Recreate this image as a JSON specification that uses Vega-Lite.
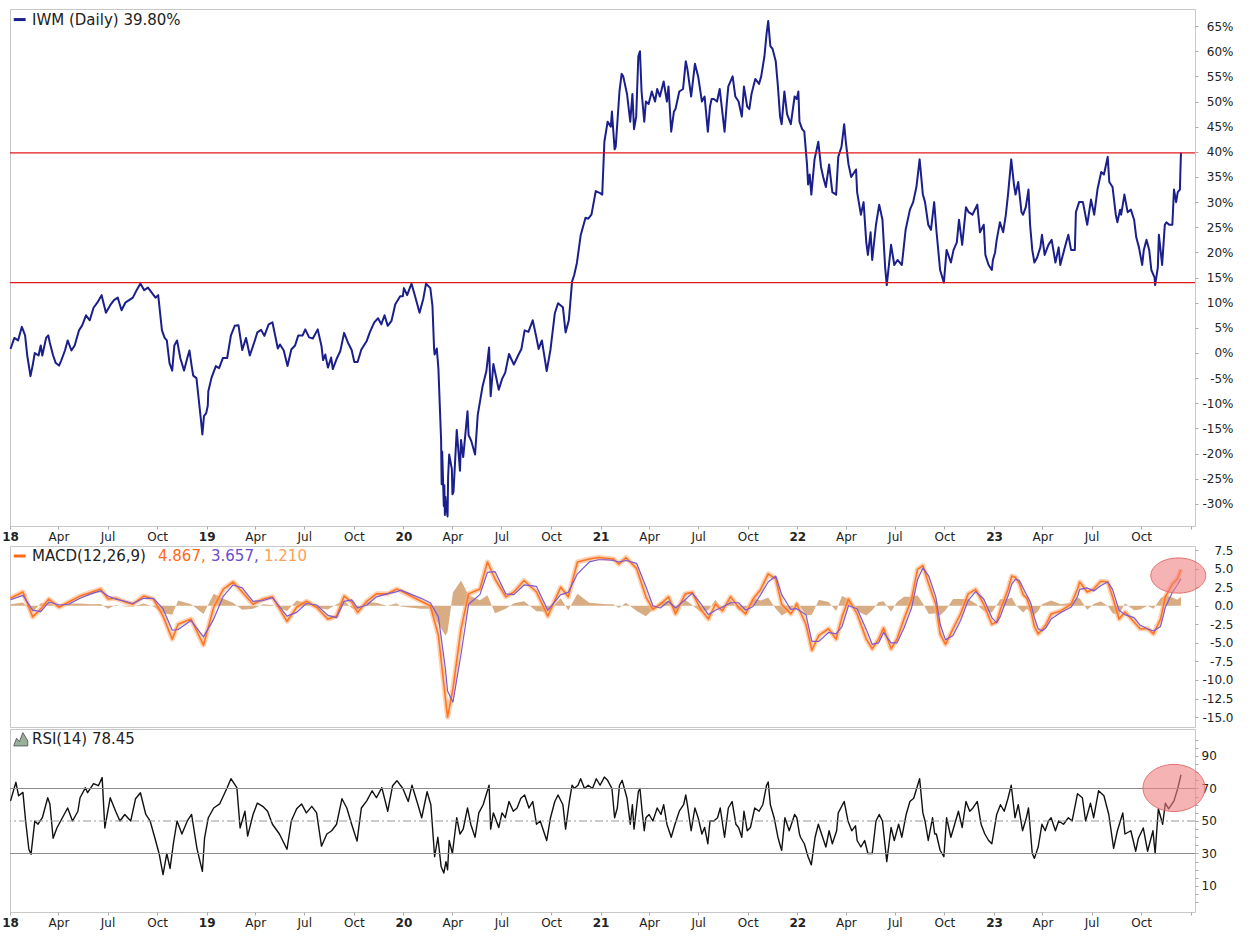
{
"$schema": "https://vega.github.io/schema/vega-lite/v6.json",
"padding": {"left": 1, "top": 8, "right": 2, "bottom": 2},
"background": "white",
"spacing": 0,
"config": {
  "view": {"stroke": "#c8c8c8", "strokeWidth": 1},
  "axis": {"labelFont": "DejaVu Sans", "labelColor": "#222222", "grid": false, "domain": false, "tickColor": "#aaaaaa", "titlePadding": 0},
  "text": {"font": "DejaVu Sans"}
},
"datasets": {
"px": [
{"d":"2018-01-02","v":0.8},{"d":"2018-01-09","v":3.0},{"d":"2018-01-16","v":2.5},{"d":"2018-01-23","v":5.2},{"d":"2018-01-29","v":3.5},{"d":"2018-02-02","v":-0.5},{"d":"2018-02-08","v":-4.6},{"d":"2018-02-12","v":-2.5},{"d":"2018-02-16","v":0.0},{"d":"2018-02-23","v":-0.5},{"d":"2018-02-27","v":1.5},{"d":"2018-03-02","v":-0.5},{"d":"2018-03-09","v":3.0},{"d":"2018-03-13","v":3.5},{"d":"2018-03-16","v":2.0},{"d":"2018-03-22","v":-0.5},{"d":"2018-03-27","v":-2.0},{"d":"2018-04-02","v":-2.5},{"d":"2018-04-06","v":-1.5},{"d":"2018-04-13","v":0.5},{"d":"2018-04-18","v":2.5},{"d":"2018-04-25","v":0.5},{"d":"2018-05-01","v":1.5},{"d":"2018-05-09","v":4.5},{"d":"2018-05-15","v":5.5},{"d":"2018-05-22","v":7.5},{"d":"2018-05-29","v":6.5},{"d":"2018-06-05","v":9.0},{"d":"2018-06-12","v":10.0},{"d":"2018-06-20","v":11.5},{"d":"2018-06-28","v":8.0},{"d":"2018-07-06","v":9.5},{"d":"2018-07-13","v":10.5},{"d":"2018-07-20","v":11.0},{"d":"2018-07-27","v":8.5},{"d":"2018-08-03","v":10.0},{"d":"2018-08-10","v":10.5},{"d":"2018-08-17","v":11.0},{"d":"2018-08-24","v":12.5},{"d":"2018-08-31","v":13.8},{"d":"2018-09-07","v":12.5},{"d":"2018-09-14","v":13.0},{"d":"2018-09-21","v":12.0},{"d":"2018-09-28","v":11.0},{"d":"2018-10-03","v":11.5},{"d":"2018-10-10","v":4.5},{"d":"2018-10-15","v":3.0},{"d":"2018-10-19","v":2.5},{"d":"2018-10-24","v":-2.0},{"d":"2018-10-29","v":-3.5},{"d":"2018-11-02","v":1.5},{"d":"2018-11-07","v":2.5},{"d":"2018-11-13","v":-1.0},{"d":"2018-11-20","v":-3.5},{"d":"2018-11-26","v":-1.0},{"d":"2018-11-30","v":0.5},{"d":"2018-12-04","v":-2.5},{"d":"2018-12-07","v":-4.5},{"d":"2018-12-13","v":-5.0},{"d":"2018-12-17","v":-9.0},{"d":"2018-12-21","v":-13.0},{"d":"2018-12-24","v":-16.2},{"d":"2018-12-27","v":-12.5},{"d":"2018-12-31","v":-12.0},
{"d":"2019-01-03","v":-10.5},{"d":"2019-01-04","v":-7.6},{"d":"2019-01-10","v":-4.9},{"d":"2019-01-18","v":-2.6},{"d":"2019-01-24","v":-3.0},{"d":"2019-01-31","v":-1.0},{"d":"2019-02-08","v":-1.0},{"d":"2019-02-15","v":3.5},{"d":"2019-02-22","v":5.4},{"d":"2019-03-01","v":5.5},{"d":"2019-03-08","v":0.6},{"d":"2019-03-15","v":3.0},{"d":"2019-03-22","v":-0.5},{"d":"2019-03-29","v":1.7},{"d":"2019-04-05","v":4.1},{"d":"2019-04-12","v":4.6},{"d":"2019-04-18","v":3.4},{"d":"2019-04-26","v":5.7},{"d":"2019-05-03","v":6.1},{"d":"2019-05-13","v":0.9},{"d":"2019-05-17","v":1.7},{"d":"2019-05-24","v":0.5},{"d":"2019-05-31","v":-2.6},{"d":"2019-06-07","v":0.7},{"d":"2019-06-14","v":1.5},{"d":"2019-06-20","v":3.5},{"d":"2019-06-28","v":3.5},{"d":"2019-07-03","v":4.7},{"d":"2019-07-10","v":3.1},{"d":"2019-07-17","v":2.9},{"d":"2019-07-26","v":4.7},{"d":"2019-08-02","v":1.4},{"d":"2019-08-05","v":-1.4},{"d":"2019-08-09","v":-0.3},{"d":"2019-08-14","v":-2.9},{"d":"2019-08-20","v":-0.9},{"d":"2019-08-23","v":-3.2},{"d":"2019-08-30","v":-1.2},{"d":"2019-09-06","v":0.4},{"d":"2019-09-13","v":4.0},{"d":"2019-09-20","v":2.1},{"d":"2019-09-27","v":0.6},{"d":"2019-10-02","v":-1.8},{"d":"2019-10-08","v":-1.8},{"d":"2019-10-15","v":0.7},{"d":"2019-10-25","v":2.4},{"d":"2019-10-31","v":4.2},{"d":"2019-11-08","v":6.1},{"d":"2019-11-15","v":6.9},{"d":"2019-11-21","v":5.7},{"d":"2019-11-27","v":7.5},{"d":"2019-12-03","v":5.4},{"d":"2019-12-10","v":6.4},{"d":"2019-12-17","v":9.7},{"d":"2019-12-26","v":11.3},{"d":"2019-12-31","v":11.3},
{"d":"2020-01-02","v":12.9},{"d":"2020-01-08","v":11.5},{"d":"2020-01-16","v":13.8},{"d":"2020-01-24","v":10.8},{"d":"2020-01-31","v":8.0},{"d":"2020-02-07","v":10.8},{"d":"2020-02-12","v":13.8},{"d":"2020-02-20","v":12.9},{"d":"2020-02-24","v":9.3},{"d":"2020-02-27","v":0.8},{"d":"2020-02-28","v":-0.3},{"d":"2020-03-03","v":0.9},{"d":"2020-03-06","v":-3.1},{"d":"2020-03-09","v":-11.7},{"d":"2020-03-11","v":-17.3},{"d":"2020-03-12","v":-26.1},{"d":"2020-03-13","v":-19.6},{"d":"2020-03-16","v":-30.4},{"d":"2020-03-17","v":-26.3},{"d":"2020-03-18","v":-32.2},{"d":"2020-03-19","v":-28.6},{"d":"2020-03-20","v":-30.1},{"d":"2020-03-23","v":-32.5},{"d":"2020-03-24","v":-24.6},{"d":"2020-03-26","v":-20.2},{"d":"2020-03-31","v":-23.1},{"d":"2020-04-01","v":-28.1},{"d":"2020-04-03","v":-27.6},{"d":"2020-04-09","v":-15.3},{"d":"2020-04-15","v":-23.4},{"d":"2020-04-17","v":-17.3},{"d":"2020-04-21","v":-20.7},{"d":"2020-04-29","v":-11.6},{"d":"2020-05-01","v":-16.3},{"d":"2020-05-06","v":-17.5},{"d":"2020-05-13","v":-20.2},{"d":"2020-05-18","v":-12.3},{"d":"2020-05-27","v":-6.6},{"d":"2020-06-03","v":-3.6},{"d":"2020-06-08","v":1.1},{"d":"2020-06-11","v":-8.6},{"d":"2020-06-16","v":-2.2},{"d":"2020-06-26","v":-7.3},{"d":"2020-07-02","v":-5.2},{"d":"2020-07-08","v":-3.9},{"d":"2020-07-15","v":-0.2},{"d":"2020-07-24","v":-2.3},{"d":"2020-07-31","v":-0.7},{"d":"2020-08-07","v":0.8},{"d":"2020-08-13","v":4.5},{"d":"2020-08-20","v":4.2},{"d":"2020-08-28","v":6.5},{"d":"2020-09-03","v":3.5},{"d":"2020-09-08","v":0.8},{"d":"2020-09-14","v":2.5},{"d":"2020-09-23","v":-3.6},{"d":"2020-09-30","v":0.7},{"d":"2020-10-08","v":7.9},{"d":"2020-10-14","v":9.9},{"d":"2020-10-23","v":9.1},{"d":"2020-10-28","v":4.1},{"d":"2020-11-03","v":6.5},{"d":"2020-11-09","v":14.2},{"d":"2020-11-13","v":15.5},{"d":"2020-11-18","v":17.9},{"d":"2020-11-25","v":23.4},{"d":"2020-12-04","v":26.9},{"d":"2020-12-09","v":26.7},{"d":"2020-12-15","v":27.5},{"d":"2020-12-23","v":32.2},{"d":"2020-12-31","v":31.8},
{"d":"2021-01-04","v":31.5},{"d":"2021-01-08","v":42.0},{"d":"2021-01-14","v":46.0},{"d":"2021-01-20","v":45.0},{"d":"2021-01-22","v":48.0},{"d":"2021-01-27","v":40.5},{"d":"2021-01-29","v":41.0},{"d":"2021-02-05","v":52.0},{"d":"2021-02-09","v":55.5},{"d":"2021-02-12","v":55.0},{"d":"2021-02-19","v":51.5},{"d":"2021-02-25","v":46.0},{"d":"2021-03-01","v":51.5},{"d":"2021-03-04","v":44.5},{"d":"2021-03-08","v":47.0},{"d":"2021-03-12","v":59.0},{"d":"2021-03-15","v":60.0},{"d":"2021-03-18","v":52.0},{"d":"2021-03-23","v":46.0},{"d":"2021-03-26","v":50.0},{"d":"2021-03-31","v":49.5},{"d":"2021-04-06","v":52.0},{"d":"2021-04-12","v":50.0},{"d":"2021-04-16","v":52.5},{"d":"2021-04-21","v":51.0},{"d":"2021-04-28","v":54.0},{"d":"2021-05-04","v":50.0},{"d":"2021-05-07","v":53.0},{"d":"2021-05-12","v":44.0},{"d":"2021-05-17","v":48.0},{"d":"2021-05-20","v":48.5},{"d":"2021-05-27","v":52.0},{"d":"2021-06-03","v":52.5},{"d":"2021-06-08","v":58.0},{"d":"2021-06-11","v":56.5},{"d":"2021-06-18","v":51.0},{"d":"2021-06-25","v":57.5},{"d":"2021-07-01","v":55.0},{"d":"2021-07-08","v":50.0},{"d":"2021-07-13","v":51.0},{"d":"2021-07-19","v":44.0},{"d":"2021-07-23","v":49.0},{"d":"2021-07-26","v":50.5},{"d":"2021-07-30","v":50.5},{"d":"2021-08-05","v":50.0},{"d":"2021-08-10","v":52.5},{"d":"2021-08-19","v":44.0},{"d":"2021-08-23","v":49.5},{"d":"2021-08-26","v":53.0},{"d":"2021-09-03","v":55.0},{"d":"2021-09-08","v":51.0},{"d":"2021-09-14","v":50.0},{"d":"2021-09-20","v":47.0},{"d":"2021-09-24","v":53.0},{"d":"2021-09-30","v":49.0},{"d":"2021-10-04","v":48.5},{"d":"2021-10-08","v":51.5},{"d":"2021-10-15","v":54.5},{"d":"2021-10-22","v":53.5},{"d":"2021-10-26","v":55.0},{"d":"2021-11-01","v":59.0},{"d":"2021-11-05","v":63.5},{"d":"2021-11-08","v":66.0},{"d":"2021-11-12","v":61.0},{"d":"2021-11-16","v":60.5},{"d":"2021-11-22","v":58.0},{"d":"2021-11-26","v":53.0},{"d":"2021-11-30","v":47.0},{"d":"2021-12-03","v":45.5},{"d":"2021-12-08","v":52.0},{"d":"2021-12-13","v":47.5},{"d":"2021-12-20","v":45.5},{"d":"2021-12-27","v":51.0},{"d":"2021-12-31","v":50.5},
{"d":"2022-01-03","v":52.0},{"d":"2022-01-05","v":46.0},{"d":"2022-01-10","v":44.5},{"d":"2022-01-14","v":44.0},{"d":"2022-01-19","v":37.5},{"d":"2022-01-21","v":33.5},{"d":"2022-01-24","v":35.5},{"d":"2022-01-27","v":31.5},{"d":"2022-02-02","v":38.5},{"d":"2022-02-09","v":42.0},{"d":"2022-02-14","v":37.0},{"d":"2022-02-18","v":35.0},{"d":"2022-02-23","v":33.0},{"d":"2022-03-01","v":37.5},{"d":"2022-03-07","v":32.0},{"d":"2022-03-14","v":31.5},{"d":"2022-03-18","v":39.0},{"d":"2022-03-24","v":41.0},{"d":"2022-03-29","v":45.5},{"d":"2022-04-01","v":42.0},{"d":"2022-04-06","v":37.5},{"d":"2022-04-11","v":35.0},{"d":"2022-04-20","v":36.5},{"d":"2022-04-22","v":32.0},{"d":"2022-04-29","v":27.5},{"d":"2022-05-04","v":30.0},{"d":"2022-05-09","v":22.0},{"d":"2022-05-12","v":19.5},{"d":"2022-05-17","v":24.0},{"d":"2022-05-20","v":18.5},{"d":"2022-05-27","v":25.5},{"d":"2022-06-02","v":29.5},{"d":"2022-06-08","v":26.5},{"d":"2022-06-13","v":17.0},{"d":"2022-06-16","v":13.5},{"d":"2022-06-24","v":21.5},{"d":"2022-06-30","v":17.5},{"d":"2022-07-06","v":18.5},{"d":"2022-07-14","v":17.5},{"d":"2022-07-21","v":24.5},{"d":"2022-07-29","v":28.5},{"d":"2022-08-04","v":30.0},{"d":"2022-08-10","v":33.0},{"d":"2022-08-16","v":38.5},{"d":"2022-08-22","v":31.5},{"d":"2022-08-26","v":30.0},{"d":"2022-09-01","v":25.5},{"d":"2022-09-06","v":24.5},{"d":"2022-09-12","v":30.0},{"d":"2022-09-16","v":24.5},{"d":"2022-09-23","v":16.5},{"d":"2022-09-30","v":14.0},{"d":"2022-10-05","v":20.5},{"d":"2022-10-13","v":18.0},{"d":"2022-10-18","v":20.5},{"d":"2022-10-24","v":22.0},{"d":"2022-10-28","v":26.5},{"d":"2022-11-03","v":21.5},{"d":"2022-11-10","v":29.0},{"d":"2022-11-15","v":28.0},{"d":"2022-11-22","v":27.5},{"d":"2022-12-01","v":29.5},{"d":"2022-12-06","v":24.0},{"d":"2022-12-13","v":25.5},{"d":"2022-12-16","v":19.5},{"d":"2022-12-22","v":17.5},{"d":"2022-12-28","v":16.5},{"d":"2022-12-30","v":18.5},
{"d":"2023-01-03","v":20.0},{"d":"2023-01-06","v":22.5},{"d":"2023-01-12","v":26.0},{"d":"2023-01-18","v":24.0},{"d":"2023-01-23","v":27.5},{"d":"2023-01-27","v":31.5},{"d":"2023-02-02","v":38.5},{"d":"2023-02-07","v":33.5},{"d":"2023-02-10","v":31.5},{"d":"2023-02-15","v":34.0},{"d":"2023-02-21","v":28.0},{"d":"2023-02-24","v":27.5},{"d":"2023-03-01","v":29.0},{"d":"2023-03-06","v":32.5},{"d":"2023-03-09","v":25.5},{"d":"2023-03-13","v":20.5},{"d":"2023-03-17","v":18.0},{"d":"2023-03-22","v":19.0},{"d":"2023-03-28","v":21.0},{"d":"2023-03-31","v":23.5},{"d":"2023-04-05","v":19.5},{"d":"2023-04-12","v":21.5},{"d":"2023-04-18","v":22.5},{"d":"2023-04-25","v":18.0},{"d":"2023-05-01","v":21.0},{"d":"2023-05-04","v":17.5},{"d":"2023-05-10","v":20.0},{"d":"2023-05-15","v":22.0},{"d":"2023-05-19","v":23.5},{"d":"2023-05-24","v":20.5},{"d":"2023-05-31","v":20.5},{"d":"2023-06-02","v":28.0},{"d":"2023-06-08","v":30.0},{"d":"2023-06-15","v":30.0},{"d":"2023-06-23","v":25.5},{"d":"2023-06-30","v":30.5},{"d":"2023-07-06","v":27.5},{"d":"2023-07-12","v":32.5},{"d":"2023-07-19","v":36.0},{"d":"2023-07-24","v":35.5},{"d":"2023-07-31","v":39.0},{"d":"2023-08-03","v":34.0},{"d":"2023-08-09","v":33.0},{"d":"2023-08-15","v":27.5},{"d":"2023-08-18","v":26.0},{"d":"2023-08-23","v":28.5},{"d":"2023-08-25","v":27.5},{"d":"2023-08-31","v":31.5},{"d":"2023-09-06","v":28.0},{"d":"2023-09-12","v":28.5},{"d":"2023-09-18","v":26.5},{"d":"2023-09-22","v":23.0},{"d":"2023-09-27","v":21.0},{"d":"2023-10-03","v":17.5},{"d":"2023-10-06","v":20.5},{"d":"2023-10-11","v":22.5},{"d":"2023-10-16","v":20.5},{"d":"2023-10-20","v":16.5},{"d":"2023-10-26","v":15.0},{"d":"2023-10-27","v":13.5},{"d":"2023-11-01","v":17.0},{"d":"2023-11-03","v":23.5},{"d":"2023-11-09","v":17.5},{"d":"2023-11-14","v":25.5},{"d":"2023-11-17","v":26.0},{"d":"2023-11-22","v":25.5},{"d":"2023-11-28","v":25.5},{"d":"2023-12-01","v":32.5},{"d":"2023-12-05","v":30.0},{"d":"2023-12-08","v":32.0},{"d":"2023-12-12","v":32.5},{"d":"2023-12-13","v":36.5},{"d":"2023-12-14","v":39.8}
],
"macd": [
{"d":"2018-01-02","m":1.0,"s":0.8,"h":0.2},{"d":"2018-01-25","m":1.85,"s":1.4,"h":0.45},{"d":"2018-02-12","m":-1.5,"s":-0.6,"h":-0.9},{"d":"2018-02-27","m":-0.45,"s":-0.8,"h":0.35},{"d":"2018-03-14","m":0.9,"s":0.5,"h":0.4},{"d":"2018-04-02","m":-0.2,"s":0.1,"h":-0.3},{"d":"2018-04-20","m":0.5,"s":0.2,"h":0.3},{"d":"2018-05-11","m":1.3,"s":1.0,"h":0.3},{"d":"2018-05-31","m":1.8,"s":1.6,"h":0.2},{"d":"2018-06-18","m":2.25,"s":2.0,"h":0.25},{"d":"2018-07-02","m":0.9,"s":1.3,"h":-0.4},{"d":"2018-07-16","m":1.0,"s":0.9,"h":0.1},{"d":"2018-08-03","m":0.5,"s":0.6,"h":-0.1},{"d":"2018-08-17","m":0.2,"s":0.3,"h":-0.1},{"d":"2018-09-06","m":1.3,"s":1.0,"h":0.3},{"d":"2018-09-24","m":0.9,"s":1.0,"h":-0.1},{"d":"2018-10-12","m":-1.4,"s":-0.4,"h":-1.0},{"d":"2018-10-29","m":-4.5,"s":-3.3,"h":-1.2},{"d":"2018-11-09","m":-2.5,"s":-3.2,"h":0.7},{"d":"2018-12-03","m":-1.8,"s":-2.0,"h":0.2},{"d":"2018-12-26","m":-5.3,"s":-4.2,"h":-1.1},
{"d":"2019-01-14","m":-0.2,"s":-1.8,"h":1.6},{"d":"2019-02-01","m":2.25,"s":1.3,"h":0.95},{"d":"2019-02-19","m":3.2,"s":2.8,"h":0.4},{"d":"2019-03-08","m":1.85,"s":2.4,"h":-0.55},{"d":"2019-03-28","m":0.2,"s":0.6,"h":-0.4},{"d":"2019-04-16","m":0.9,"s":0.7,"h":0.2},{"d":"2019-05-03","m":1.2,"s":1.1,"h":0.1},{"d":"2019-05-30","m":-2.1,"s":-1.4,"h":-0.7},{"d":"2019-06-17","m":-0.2,"s":-0.9,"h":0.7},{"d":"2019-07-05","m":0.6,"s":0.3,"h":0.3},{"d":"2019-07-24","m":-0.2,"s":0.1,"h":-0.3},{"d":"2019-08-14","m":-1.8,"s":-1.3,"h":-0.5},{"d":"2019-08-30","m":-1.4,"s":-1.6,"h":0.2},{"d":"2019-09-13","m":1.3,"s":0.6,"h":0.7},{"d":"2019-09-27","m":0.5,"s":0.8,"h":-0.3},{"d":"2019-10-08","m":-0.9,"s":-0.3,"h":-0.6},{"d":"2019-10-25","m":0.6,"s":0.1,"h":0.5},{"d":"2019-11-12","m":1.6,"s":1.2,"h":0.4},{"d":"2019-12-02","m":1.6,"s":1.6,"h":0.0},{"d":"2019-12-20","m":2.25,"s":1.9,"h":0.35},{"d":"2019-12-27","m":2.0,"s":2.1,"h":-0.1},
{"d":"2020-02-03","m":0.6,"s":1.0,"h":-0.4},{"d":"2020-02-20","m":0.0,"s":0.4,"h":-0.4},{"d":"2020-03-06","m":-4.0,"s":-1.5,"h":-2.5},{"d":"2020-03-19","m":-12.5,"s":-8.5,"h":-4.0},{"d":"2020-03-23","m":-15.0,"s":-11.5,"h":-3.5},{"d":"2020-04-02","m":-11.2,"s":-13.0,"h":1.8},{"d":"2020-04-17","m":-3.1,"s":-6.5,"h":3.4},{"d":"2020-05-01","m":1.6,"s":0.2,"h":1.4},{"d":"2020-05-22","m":2.25,"s":1.5,"h":0.75},{"d":"2020-06-05","m":5.9,"s":4.5,"h":1.4},{"d":"2020-06-19","m":3.6,"s":4.6,"h":-1.0},{"d":"2020-07-09","m":1.2,"s":1.6,"h":-0.4},{"d":"2020-07-24","m":1.85,"s":1.5,"h":0.35},{"d":"2020-08-12","m":3.4,"s":2.8,"h":0.6},{"d":"2020-09-04","m":1.85,"s":2.6,"h":-0.75},{"d":"2020-09-25","m":-1.4,"s":-0.6,"h":-0.8},{"d":"2020-10-19","m":2.5,"s":1.5,"h":1.0},{"d":"2020-11-02","m":1.2,"s":1.8,"h":-0.6},{"d":"2020-11-19","m":5.9,"s":4.3,"h":1.6},{"d":"2020-12-11","m":6.3,"s":5.9,"h":0.4},{"d":"2020-12-28","m":6.5,"s":6.2,"h":0.3},
{"d":"2021-01-11","m":6.4,"s":6.2,"h":0.2},{"d":"2021-01-25","m":6.3,"s":6.1,"h":0.2},{"d":"2021-02-04","m":5.6,"s":5.9,"h":-0.3},{"d":"2021-02-17","m":6.5,"s":6.1,"h":0.4},{"d":"2021-03-09","m":5.0,"s":5.7,"h":-0.7},{"d":"2021-03-26","m":1.2,"s":2.6,"h":-1.4},{"d":"2021-04-08","m":-0.5,"s":0.0,"h":-0.5},{"d":"2021-04-22","m":0.2,"s":-0.3,"h":0.5},{"d":"2021-05-07","m":1.2,"s":0.6,"h":0.6},{"d":"2021-05-20","m":-1.1,"s":-0.3,"h":-0.8},{"d":"2021-06-07","m":1.6,"s":0.8,"h":0.8},{"d":"2021-06-20","m":1.8,"s":1.7,"h":0.1},{"d":"2021-07-05","m":-0.4,"s":0.4,"h":-0.8},{"d":"2021-07-20","m":-1.8,"s":-1.2,"h":-0.6},{"d":"2021-08-02","m":0.2,"s":-0.6,"h":0.8},{"d":"2021-08-15","m":-0.7,"s":-0.2,"h":-0.5},{"d":"2021-08-30","m":1.2,"s":0.4,"h":0.8},{"d":"2021-09-14","m":-0.2,"s":0.4,"h":-0.6},{"d":"2021-09-27","m":-1.1,"s":-0.6,"h":-0.5},{"d":"2021-10-11","m":0.9,"s":-0.1,"h":1.0},{"d":"2021-10-25","m":2.2,"s":1.5,"h":0.7},{"d":"2021-11-08","m":4.3,"s":3.2,"h":1.1},{"d":"2021-11-22","m":3.6,"s":4.0,"h":-0.4},{"d":"2021-12-03","m":0.2,"s":1.5,"h":-1.3},{"d":"2021-12-20","m":-1.1,"s":-0.5,"h":-0.6},{"d":"2021-12-31","m":0.2,"s":-0.4,"h":0.6},
{"d":"2022-01-17","m":-2.5,"s":-1.2,"h":-1.3},{"d":"2022-01-28","m":-6.0,"s":-4.8,"h":-1.2},{"d":"2022-02-10","m":-4.0,"s":-4.8,"h":0.8},{"d":"2022-02-28","m":-3.1,"s":-3.6,"h":0.5},{"d":"2022-03-14","m":-4.5,"s":-3.8,"h":-0.7},{"d":"2022-03-25","m":-1.5,"s":-2.8,"h":1.3},{"d":"2022-04-06","m":0.9,"s":0.0,"h":0.9},{"d":"2022-04-22","m":-1.1,"s":-0.4,"h":-0.7},{"d":"2022-05-09","m":-4.5,"s":-3.2,"h":-1.3},{"d":"2022-05-20","m":-5.8,"s":-5.2,"h":-0.6},{"d":"2022-06-01","m":-4.5,"s":-5.0,"h":0.5},{"d":"2022-06-10","m":-3.0,"s":-3.6,"h":0.6},{"d":"2022-06-24","m":-5.8,"s":-5.0,"h":-0.8},{"d":"2022-07-05","m":-4.5,"s":-5.0,"h":0.5},{"d":"2022-07-18","m":-1.8,"s":-3.0,"h":1.2},{"d":"2022-08-01","m":0.9,"s":-0.3,"h":1.2},{"d":"2022-08-12","m":4.9,"s":3.5,"h":1.4},{"d":"2022-08-22","m":5.4,"s":5.1,"h":0.3},{"d":"2022-09-02","m":2.9,"s":4.0,"h":-1.1},{"d":"2022-09-15","m":0.2,"s":1.2,"h":-1.0},{"d":"2022-09-23","m":-3.8,"s":-2.5,"h":-1.3},{"d":"2022-10-03","m":-5.2,"s":-4.6,"h":-0.6},{"d":"2022-10-17","m":-3.1,"s":-4.0,"h":0.9},{"d":"2022-10-31","m":-1.1,"s":-2.0,"h":0.9},{"d":"2022-11-14","m":1.6,"s":0.7,"h":0.9},{"d":"2022-11-28","m":2.2,"s":1.9,"h":0.3},{"d":"2022-12-13","m":0.2,"s":0.9,"h":-0.7},{"d":"2022-12-28","m":-2.5,"s":-1.6,"h":-0.9},
{"d":"2023-01-06","m":-2.2,"s":-2.3,"h":0.1},{"d":"2023-01-13","m":-0.5,"s":-1.4,"h":0.9},{"d":"2023-01-20","m":0.8,"s":0.0,"h":0.8},{"d":"2023-01-27","m":2.2,"s":1.3,"h":0.9},{"d":"2023-02-03","m":4.0,"s":2.9,"h":1.1},{"d":"2023-02-10","m":3.8,"s":3.6,"h":0.2},{"d":"2023-02-17","m":3.0,"s":3.4,"h":-0.4},{"d":"2023-02-24","m":1.5,"s":2.4,"h":-0.9},{"d":"2023-03-03","m":1.0,"s":1.4,"h":-0.4},{"d":"2023-03-10","m":-0.5,"s":0.4,"h":-0.9},{"d":"2023-03-17","m":-2.8,"s":-1.6,"h":-1.2},{"d":"2023-03-24","m":-3.8,"s":-3.1,"h":-0.7},{"d":"2023-03-31","m":-3.2,"s":-3.4,"h":0.2},{"d":"2023-04-07","m":-2.6,"s":-3.0,"h":0.4},{"d":"2023-04-17","m":-1.1,"s":-1.8,"h":0.7},{"d":"2023-05-05","m":-0.7,"s":-0.9,"h":0.2},{"d":"2023-05-24","m":0.2,"s":-0.2,"h":0.4},{"d":"2023-06-05","m":2.25,"s":1.2,"h":1.05},{"d":"2023-06-09","m":3.2,"s":2.2,"h":1.0},{"d":"2023-06-23","m":1.85,"s":2.4,"h":-0.55},{"d":"2023-07-05","m":2.25,"s":2.0,"h":0.25},{"d":"2023-07-18","m":3.3,"s":2.7,"h":0.6},{"d":"2023-07-31","m":3.2,"s":3.2,"h":0.0},{"d":"2023-08-09","m":1.2,"s":2.2,"h":-1.0},{"d":"2023-08-21","m":-1.8,"s":-0.6,"h":-1.2},{"d":"2023-09-01","m":-0.85,"s":-1.2,"h":0.35},{"d":"2023-09-18","m":-2.2,"s":-1.6,"h":-0.6},{"d":"2023-09-29","m":-3.1,"s":-2.6,"h":-0.5},{"d":"2023-10-13","m":-3.1,"s":-3.1,"h":0.0},{"d":"2023-10-24","m":-3.8,"s":-3.4,"h":-0.4},{"d":"2023-11-06","m":-1.8,"s":-2.8,"h":1.0},{"d":"2023-11-15","m":1.2,"s":-0.2,"h":1.4},{"d":"2023-11-28","m":2.9,"s":1.8,"h":1.1},{"d":"2023-12-07","m":3.6,"s":2.8,"h":0.8},{"d":"2023-12-14","m":4.867,"s":3.657,"h":1.21}
],
"rsi": [
{"d":"2018-01-02","r":62.4},{"d":"2018-01-12","r":73.8},{"d":"2018-01-17","r":65.5},{"d":"2018-01-25","r":67.6},{"d":"2018-01-30","r":50},{"d":"2018-02-05","r":32.6},{"d":"2018-02-09","r":29.5},{"d":"2018-02-16","r":50},{"d":"2018-02-22","r":48},{"d":"2018-03-02","r":52},{"d":"2018-03-12","r":64.3},{"d":"2018-03-16","r":60.5},{"d":"2018-03-22","r":39.4},{"d":"2018-03-29","r":45.7},{"d":"2018-04-05","r":50},{"d":"2018-04-18","r":58},{"d":"2018-04-27","r":50},{"d":"2018-05-07","r":56},{"d":"2018-05-11","r":64.3},{"d":"2018-05-21","r":70.5},{"d":"2018-05-25","r":67.4},{"d":"2018-06-05","r":73},{"d":"2018-06-14","r":71.7},{"d":"2018-06-21","r":76.7},{"d":"2018-06-26","r":45.7},{"d":"2018-07-06","r":64.3},{"d":"2018-07-16","r":56},{"d":"2018-07-24","r":50},{"d":"2018-08-02","r":54},{"d":"2018-08-13","r":50},{"d":"2018-08-22","r":63.7},{"d":"2018-08-31","r":67.4},{"d":"2018-09-10","r":54},{"d":"2018-09-18","r":50},{"d":"2018-09-27","r":39.4},{"d":"2018-10-05","r":29.5},{"d":"2018-10-12","r":17},{"d":"2018-10-19","r":30},{"d":"2018-10-25","r":20.8},{"d":"2018-10-31","r":35.7},{"d":"2018-11-07","r":50},{"d":"2018-11-16","r":42},{"d":"2018-11-26","r":50},{"d":"2018-12-04","r":54},{"d":"2018-12-14","r":33},{"d":"2018-12-24","r":19},{"d":"2018-12-28","r":39.4},
{"d":"2019-01-04","r":52},{"d":"2019-01-14","r":58},{"d":"2019-01-25","r":60.5},{"d":"2019-02-08","r":70.5},{"d":"2019-02-15","r":76},{"d":"2019-02-26","r":70.5},{"d":"2019-03-04","r":45.7},{"d":"2019-03-13","r":56},{"d":"2019-03-18","r":40.7},{"d":"2019-03-28","r":54},{"d":"2019-04-05","r":61},{"d":"2019-04-15","r":59},{"d":"2019-04-24","r":56},{"d":"2019-05-03","r":48},{"d":"2019-05-16","r":42},{"d":"2019-05-30","r":32.6},{"d":"2019-06-07","r":50},{"d":"2019-06-17","r":57.5},{"d":"2019-06-26","r":60.5},{"d":"2019-07-05","r":55},{"d":"2019-07-15","r":59},{"d":"2019-07-24","r":55},{"d":"2019-08-02","r":34.5},{"d":"2019-08-12","r":42},{"d":"2019-08-21","r":44},{"d":"2019-08-30","r":48},{"d":"2019-09-09","r":63.7},{"d":"2019-09-18","r":58},{"d":"2019-09-27","r":48},{"d":"2019-10-07","r":37.6},{"d":"2019-10-15","r":58},{"d":"2019-10-25","r":62.4},{"d":"2019-11-04","r":68.6},{"d":"2019-11-12","r":64.3},{"d":"2019-11-22","r":70.5},{"d":"2019-12-03","r":56},{"d":"2019-12-12","r":71.7},{"d":"2019-12-20","r":74.8},{"d":"2019-12-31","r":70},
{"d":"2020-01-10","r":62},{"d":"2020-01-17","r":72},{"d":"2020-01-28","r":60},{"d":"2020-02-04","r":52},{"d":"2020-02-14","r":68},{"d":"2020-02-21","r":60},{"d":"2020-02-28","r":28},{"d":"2020-03-05","r":40},{"d":"2020-03-11","r":22},{"d":"2020-03-16","r":18},{"d":"2020-03-20","r":25},{"d":"2020-03-23","r":20},{"d":"2020-03-26","r":38},{"d":"2020-04-01","r":30},{"d":"2020-04-09","r":52},{"d":"2020-04-15","r":42},{"d":"2020-04-21","r":45},{"d":"2020-04-29","r":58},{"d":"2020-05-05","r":48},{"d":"2020-05-13","r":40},{"d":"2020-05-20","r":55},{"d":"2020-05-28","r":60},{"d":"2020-06-08","r":72},{"d":"2020-06-11","r":45},{"d":"2020-06-16","r":55},{"d":"2020-06-26","r":46},{"d":"2020-07-02","r":55},{"d":"2020-07-08","r":52},{"d":"2020-07-15","r":62},{"d":"2020-07-23","r":56},{"d":"2020-07-30","r":58},{"d":"2020-08-06","r":64},{"d":"2020-08-13","r":66},{"d":"2020-08-21","r":58},{"d":"2020-08-28","r":62},{"d":"2020-09-04","r":48},{"d":"2020-09-11","r":50},{"d":"2020-09-23","r":38},{"d":"2020-09-30","r":52},{"d":"2020-10-08","r":62},{"d":"2020-10-14","r":66},{"d":"2020-10-23","r":60},{"d":"2020-10-28","r":45},{"d":"2020-11-04","r":62},{"d":"2020-11-09","r":72},{"d":"2020-11-13","r":70},{"d":"2020-11-20","r":72},{"d":"2020-11-25","r":76},{"d":"2020-12-02","r":70},{"d":"2020-12-09","r":72},{"d":"2020-12-17","r":70},{"d":"2020-12-24","r":76},{"d":"2020-12-31","r":72},
{"d":"2021-01-08","r":77},{"d":"2021-01-14","r":75},{"d":"2021-01-22","r":70},{"d":"2021-01-27","r":52},{"d":"2021-02-01","r":58},{"d":"2021-02-05","r":72},{"d":"2021-02-10","r":75},{"d":"2021-02-19","r":64},{"d":"2021-02-25","r":48},{"d":"2021-03-01","r":60},{"d":"2021-03-04","r":45},{"d":"2021-03-12","r":68},{"d":"2021-03-15","r":70},{"d":"2021-03-19","r":56},{"d":"2021-03-23","r":44},{"d":"2021-03-26","r":52},{"d":"2021-04-01","r":54},{"d":"2021-04-08","r":50},{"d":"2021-04-16","r":58},{"d":"2021-04-23","r":54},{"d":"2021-04-28","r":60},{"d":"2021-05-04","r":48},{"d":"2021-05-12","r":40},{"d":"2021-05-19","r":48},{"d":"2021-05-27","r":56},{"d":"2021-06-04","r":60},{"d":"2021-06-08","r":66},{"d":"2021-06-11","r":60},{"d":"2021-06-18","r":44},{"d":"2021-06-25","r":58},{"d":"2021-07-01","r":52},{"d":"2021-07-08","r":42},{"d":"2021-07-13","r":46},{"d":"2021-07-19","r":36},{"d":"2021-07-23","r":50},{"d":"2021-07-30","r":50},{"d":"2021-08-06","r":52},{"d":"2021-08-11","r":58},{"d":"2021-08-19","r":40},{"d":"2021-08-26","r":58},{"d":"2021-09-02","r":62},{"d":"2021-09-09","r":48},{"d":"2021-09-14","r":46},{"d":"2021-09-20","r":40},{"d":"2021-09-24","r":56},{"d":"2021-09-30","r":44},{"d":"2021-10-06","r":46},{"d":"2021-10-14","r":58},{"d":"2021-10-22","r":56},{"d":"2021-10-29","r":60},{"d":"2021-11-05","r":72},{"d":"2021-11-08","r":74},{"d":"2021-11-12","r":60},{"d":"2021-11-19","r":52},{"d":"2021-11-26","r":40},{"d":"2021-12-01","r":34},{"d":"2021-12-03","r":32},{"d":"2021-12-09","r":52},{"d":"2021-12-17","r":44},{"d":"2021-12-27","r":54},{"d":"2021-12-31","r":52},
{"d":"2022-01-05","r":42},{"d":"2022-01-07","r":40},{"d":"2022-01-14","r":36},{"d":"2022-01-21","r":28},{"d":"2022-01-27","r":23},{"d":"2022-02-03","r":40},{"d":"2022-02-09","r":48},{"d":"2022-02-17","r":40},{"d":"2022-02-23","r":34},{"d":"2022-03-01","r":44},{"d":"2022-03-07","r":36},{"d":"2022-03-15","r":44},{"d":"2022-03-18","r":55},{"d":"2022-03-29","r":62},{"d":"2022-04-05","r":50},{"d":"2022-04-12","r":44},{"d":"2022-04-19","r":47},{"d":"2022-04-22","r":38},{"d":"2022-04-29","r":34},{"d":"2022-05-06","r":38},{"d":"2022-05-12","r":30},{"d":"2022-05-20","r":30},{"d":"2022-05-27","r":50},{"d":"2022-06-02","r":54},{"d":"2022-06-08","r":50},{"d":"2022-06-16","r":25},{"d":"2022-06-24","r":46},{"d":"2022-06-30","r":38},{"d":"2022-07-08","r":48},{"d":"2022-07-14","r":40},{"d":"2022-07-22","r":54},{"d":"2022-07-29","r":62},{"d":"2022-08-05","r":64},{"d":"2022-08-16","r":76},{"d":"2022-08-22","r":55},{"d":"2022-08-26","r":50},{"d":"2022-09-01","r":38},{"d":"2022-09-09","r":52},{"d":"2022-09-13","r":42},{"d":"2022-09-16","r":42},{"d":"2022-09-23","r":32},{"d":"2022-09-30","r":28},{"d":"2022-10-05","r":52},{"d":"2022-10-13","r":40},{"d":"2022-10-20","r":48},{"d":"2022-10-27","r":56},{"d":"2022-11-03","r":46},{"d":"2022-11-10","r":62},{"d":"2022-11-17","r":56},{"d":"2022-11-23","r":58},{"d":"2022-12-01","r":62},{"d":"2022-12-08","r":48},{"d":"2022-12-15","r":42},{"d":"2022-12-22","r":38},{"d":"2022-12-28","r":36},
{"d":"2023-01-06","r":54},{"d":"2023-01-13","r":60},{"d":"2023-01-20","r":56},{"d":"2023-01-27","r":64},{"d":"2023-02-02","r":72},{"d":"2023-02-09","r":52},{"d":"2023-02-15","r":60},{"d":"2023-02-23","r":44},{"d":"2023-03-02","r":52},{"d":"2023-03-06","r":58},{"d":"2023-03-13","r":30},{"d":"2023-03-17","r":27},{"d":"2023-03-24","r":34},{"d":"2023-03-31","r":48},{"d":"2023-04-06","r":44},{"d":"2023-04-12","r":50},{"d":"2023-04-17","r":52},{"d":"2023-04-25","r":44},{"d":"2023-05-01","r":50},{"d":"2023-05-10","r":48},{"d":"2023-05-19","r":52},{"d":"2023-05-26","r":50},{"d":"2023-06-05","r":66.8},{"d":"2023-06-14","r":64.3},{"d":"2023-06-20","r":50},{"d":"2023-06-29","r":61},{"d":"2023-07-05","r":52},{"d":"2023-07-14","r":68.6},{"d":"2023-07-24","r":65.5},{"d":"2023-08-02","r":54},{"d":"2023-08-11","r":33.2},{"d":"2023-08-18","r":44},{"d":"2023-08-28","r":55},{"d":"2023-09-01","r":42},{"d":"2023-09-12","r":44},{"d":"2023-09-21","r":31.4},{"d":"2023-09-26","r":39.4},{"d":"2023-10-05","r":45.7},{"d":"2023-10-13","r":31.4},{"d":"2023-10-23","r":44},{"d":"2023-10-27","r":30},{"d":"2023-11-02","r":57.5},{"d":"2023-11-10","r":48},{"d":"2023-11-15","r":61},{"d":"2023-11-21","r":57.5},{"d":"2023-12-01","r":62.4},{"d":"2023-12-08","r":70},{"d":"2023-12-14","r":78.45}
]
},
"vconcat": [
{
  "width": 1185, "height": 517,
  "layer": [
    {"data": {"name": "px"}, "mark": {"type": "line", "color": "#1b1f8c", "strokeWidth": 2, "strokeJoin": "round"},
     "encoding": {
       "x": {"field": "d", "type": "temporal", "title": null,
             "scale": {"type": "utc", "domain": [{"year": 2018, "month": 1, "date": 1, "utc": true}, {"year": 2024, "month": 1, "date": 9, "utc": true}]},
             "axis": {"title": null, "orient": "bottom", "tickCount": {"interval": "month", "step": 3}, "labelExpr": "utcyear(datum.value) > 2023 ? '' : (utcmonth(datum.value) === 0 ? utcFormat(datum.value, '%y') : utcFormat(datum.value, '%b'))", "labelFontWeight": {"condition": {"test": "utcmonth(datum.value) === 0", "value": "bold"}, "value": "normal"}, "labelFontSize": 12, "tickSize": 3, "labelPadding": 2, "minExtent": 16, "maxExtent": 16, "labelOverlap": false, "labelFlush": false}},
       "y": {"field": "v", "type": "quantitative", "title": null,
             "scale": {"domain": [-34.4, 68.4], "nice": false, "zero": false},
             "axis": {"title": null, "orient": "right", "values": [-30,-25,-20,-15,-10,-5,0,5,10,15,20,25,30,35,40,45,50,55,60,65], "labelExpr": "datum.value + '%'", "labelAlign": "right", "labelPadding": 35, "tickSize": 3, "labelFontSize": 12, "labelOverlap": false}}
     }},
    {"data": {"values": [{}]}, "mark": {"type": "rule", "color": "#e31a1c", "strokeWidth": 1.2},
     "encoding": {"y": {"datum": 39.8, "title": null, "axis": {"title": null, "orient": "right", "values": [-30,-25,-20,-15,-10,-5,0,5,10,15,20,25,30,35,40,45,50,55,60,65], "labelExpr": "datum.value + '%'", "labelAlign": "right", "labelPadding": 35, "tickSize": 3, "labelFontSize": 12, "labelOverlap": false}}}},
    {"data": {"values": [{}]}, "mark": {"type": "rule", "color": "#e31a1c", "strokeWidth": 1.2},
     "encoding": {"y": {"datum": 14, "title": null, "axis": {"title": null, "orient": "right", "values": [-30,-25,-20,-15,-10,-5,0,5,10,15,20,25,30,35,40,45,50,55,60,65], "labelExpr": "datum.value + '%'", "labelAlign": "right", "labelPadding": 35, "tickSize": 3, "labelFontSize": 12, "labelOverlap": false}}}},
    {"data": {"values": [{}]}, "mark": {"type": "rule", "color": "#1b1f8c", "strokeWidth": 3},
     "encoding": {
       "x": {"datum": {"year": 2018, "month": 1, "date": 8, "utc": true}, "title": null, "axis": {"title": null, "orient": "bottom", "tickCount": {"interval": "month", "step": 3}, "labelExpr": "utcyear(datum.value) > 2023 ? '' : (utcmonth(datum.value) === 0 ? utcFormat(datum.value, '%y') : utcFormat(datum.value, '%b'))", "labelFontWeight": {"condition": {"test": "utcmonth(datum.value) === 0", "value": "bold"}, "value": "normal"}, "labelFontSize": 12, "tickSize": 3, "labelPadding": 2, "minExtent": 16, "maxExtent": 16, "labelOverlap": false, "labelFlush": false}},
       "x2": {"datum": {"year": 2018, "month": 1, "date": 30, "utc": true}},
       "y": {"datum": 66.3, "title": null, "axis": {"title": null, "orient": "right", "values": [-30,-25,-20,-15,-10,-5,0,5,10,15,20,25,30,35,40,45,50,55,60,65], "labelExpr": "datum.value + '%'", "labelAlign": "right", "labelPadding": 35, "tickSize": 3, "labelFontSize": 12, "labelOverlap": false}}}},
    {"data": {"values": [{}]}, "mark": {"type": "text", "align": "left", "baseline": "middle", "dx": 22, "fontSize": 15, "color": "#222222"},
     "encoding": {
       "x": {"datum": {"year": 2018, "month": 1, "date": 1, "utc": true}, "title": null, "axis": {"title": null, "orient": "bottom", "tickCount": {"interval": "month", "step": 3}, "labelExpr": "utcyear(datum.value) > 2023 ? '' : (utcmonth(datum.value) === 0 ? utcFormat(datum.value, '%y') : utcFormat(datum.value, '%b'))", "labelFontWeight": {"condition": {"test": "utcmonth(datum.value) === 0", "value": "bold"}, "value": "normal"}, "labelFontSize": 12, "tickSize": 3, "labelPadding": 2, "minExtent": 16, "maxExtent": 16, "labelOverlap": false, "labelFlush": false}},
       "y": {"datum": 66.3, "title": null, "axis": {"title": null, "orient": "right", "values": [-30,-25,-20,-15,-10,-5,0,5,10,15,20,25,30,35,40,45,50,55,60,65], "labelExpr": "datum.value + '%'", "labelAlign": "right", "labelPadding": 35, "tickSize": 3, "labelFontSize": 12, "labelOverlap": false}},
       "text": {"value": "IWM (Daily) 39.80%"}}}
  ]
},
{
  "width": 1185, "height": 181,
  "layer": [
    {"data": {"name": "macd"}, "mark": {"type": "area", "color": "#d5a477", "opacity": 0.9},
     "encoding": {
       "x": {"field": "d", "type": "temporal", "scale": {"type": "utc", "domain": [{"year": 2018, "month": 1, "date": 1, "utc": true}, {"year": 2024, "month": 1, "date": 9, "utc": true}]}, "axis": null},
       "y": {"field": "h", "type": "quantitative", "title": null, "scale": {"domain": [-16.34, 8.05], "nice": false, "zero": false},
             "axis": {"title": null, "orient": "right", "values": [-15,-12.5,-10,-7.5,-5,-2.5,0,2.5,5,7.5], "labelExpr": "replace(format(datum.value, '.1f'), '\u2212', '-')", "labelAlign": "right", "labelPadding": 35, "tickSize": 3, "labelFontSize": 12, "labelOverlap": false}},
       "y2": {"datum": 0}
     }},
    {"data": {"name": "macd"}, "mark": {"type": "line", "color": "#ffb27a", "strokeWidth": 5, "opacity": 0.6, "strokeJoin": "round"},
     "encoding": {"x": {"field": "d", "type": "temporal", "axis": null}, "y": {"field": "m", "type": "quantitative", "title": null, "axis": {"title": null, "orient": "right", "values": [-15,-12.5,-10,-7.5,-5,-2.5,0,2.5,5,7.5], "labelExpr": "replace(format(datum.value, '.1f'), '\u2212', '-')", "labelAlign": "right", "labelPadding": 35, "tickSize": 3, "labelFontSize": 12, "labelOverlap": false}}}},
    {"data": {"name": "macd"}, "mark": {"type": "line", "color": "#ff7426", "strokeWidth": 1.6, "strokeJoin": "round"},
     "encoding": {"x": {"field": "d", "type": "temporal", "axis": null}, "y": {"field": "m", "type": "quantitative", "title": null, "axis": {"title": null, "orient": "right", "values": [-15,-12.5,-10,-7.5,-5,-2.5,0,2.5,5,7.5], "labelExpr": "replace(format(datum.value, '.1f'), '\u2212', '-')", "labelAlign": "right", "labelPadding": 35, "tickSize": 3, "labelFontSize": 12, "labelOverlap": false}}}},
    {"data": {"name": "macd"}, "mark": {"type": "line", "color": "#7b5ad6", "strokeWidth": 1.2, "strokeJoin": "round"},
     "encoding": {"x": {"field": "d", "type": "temporal", "axis": null}, "y": {"field": "s", "type": "quantitative", "title": null, "axis": {"title": null, "orient": "right", "values": [-15,-12.5,-10,-7.5,-5,-2.5,0,2.5,5,7.5], "labelExpr": "replace(format(datum.value, '.1f'), '\u2212', '-')", "labelAlign": "right", "labelPadding": 35, "tickSize": 3, "labelFontSize": 12, "labelOverlap": false}}}},
    {"data": {"values": [{}]}, "mark": {"type": "rule", "color": "#ff6a1a", "strokeWidth": 3},
     "encoding": {"x": {"datum": {"year": 2018, "month": 1, "date": 8, "utc": true}, "axis": null}, "x2": {"datum": {"year": 2018, "month": 1, "date": 30, "utc": true}}, "y": {"datum": 6.7, "title": null, "axis": {"title": null, "orient": "right", "values": [-15,-12.5,-10,-7.5,-5,-2.5,0,2.5,5,7.5], "labelExpr": "replace(format(datum.value, '.1f'), '\u2212', '-')", "labelAlign": "right", "labelPadding": 35, "tickSize": 3, "labelFontSize": 12, "labelOverlap": false}}}},
    {"data": {"values": [{}]}, "mark": {"type": "text", "align": "left", "baseline": "middle", "dx": 22, "fontSize": 15, "color": "#222222"},
     "encoding": {"x": {"datum": {"year": 2018, "month": 1, "date": 1, "utc": true}, "axis": null}, "y": {"datum": 6.7, "title": null, "axis": {"title": null, "orient": "right", "values": [-15,-12.5,-10,-7.5,-5,-2.5,0,2.5,5,7.5], "labelExpr": "replace(format(datum.value, '.1f'), '\u2212', '-')", "labelAlign": "right", "labelPadding": 35, "tickSize": 3, "labelFontSize": 12, "labelOverlap": false}}, "text": {"value": "MACD(12,26,9)"}}},
    {"data": {"values": [{}]}, "mark": {"type": "text", "align": "left", "baseline": "middle", "dx": 148, "fontSize": 15, "color": "#ff6a1a"},
     "encoding": {"x": {"datum": {"year": 2018, "month": 1, "date": 1, "utc": true}, "axis": null}, "y": {"datum": 6.7, "title": null, "axis": {"title": null, "orient": "right", "values": [-15,-12.5,-10,-7.5,-5,-2.5,0,2.5,5,7.5], "labelExpr": "replace(format(datum.value, '.1f'), '\u2212', '-')", "labelAlign": "right", "labelPadding": 35, "tickSize": 3, "labelFontSize": 12, "labelOverlap": false}}, "text": {"value": "4.867,"}}},
    {"data": {"values": [{}]}, "mark": {"type": "text", "align": "left", "baseline": "middle", "dx": 201, "fontSize": 15, "color": "#6a4ccf"},
     "encoding": {"x": {"datum": {"year": 2018, "month": 1, "date": 1, "utc": true}, "axis": null}, "y": {"datum": 6.7, "title": null, "axis": {"title": null, "orient": "right", "values": [-15,-12.5,-10,-7.5,-5,-2.5,0,2.5,5,7.5], "labelExpr": "replace(format(datum.value, '.1f'), '\u2212', '-')", "labelAlign": "right", "labelPadding": 35, "tickSize": 3, "labelFontSize": 12, "labelOverlap": false}}, "text": {"value": "3.657,"}}},
    {"data": {"values": [{}]}, "mark": {"type": "text", "align": "left", "baseline": "middle", "dx": 254, "fontSize": 15, "color": "#ffa057"},
     "encoding": {"x": {"datum": {"year": 2018, "month": 1, "date": 1, "utc": true}, "axis": null}, "y": {"datum": 6.7, "title": null, "axis": {"title": null, "orient": "right", "values": [-15,-12.5,-10,-7.5,-5,-2.5,0,2.5,5,7.5], "labelExpr": "replace(format(datum.value, '.1f'), '\u2212', '-')", "labelAlign": "right", "labelPadding": 35, "tickSize": 3, "labelFontSize": 12, "labelOverlap": false}}, "text": {"value": "1.210"}}},
    {"data": {"values": [{}]}, "mark": {"type": "point", "shape": "M -1 0 A 1 0.64 0 1 0 1 0 A 1 0.64 0 1 0 -1 0 Z", "size": 3025, "filled": true, "fill": "#f08080", "fillOpacity": 0.6, "stroke": "#e06666", "strokeWidth": 1, "strokeOpacity": 0.9},
     "encoding": {"x": {"datum": {"year": 2023, "month": 12, "date": 9, "utc": true}, "axis": null}, "y": {"datum": 4.07, "title": null, "axis": {"title": null, "orient": "right", "values": [-15,-12.5,-10,-7.5,-5,-2.5,0,2.5,5,7.5], "labelExpr": "replace(format(datum.value, '.1f'), '\u2212', '-')", "labelAlign": "right", "labelPadding": 35, "tickSize": 3, "labelFontSize": 12, "labelOverlap": false}}}}
  ]
},
{
  "width": 1185, "height": 183,
  "layer": [
    {"data": {"name": "rsi"}, "mark": {"type": "line", "color": "#111111", "strokeWidth": 1.4, "strokeJoin": "round"},
     "encoding": {
       "x": {"field": "d", "type": "temporal", "title": null,
             "scale": {"type": "utc", "domain": [{"year": 2018, "month": 1, "date": 1, "utc": true}, {"year": 2024, "month": 1, "date": 9, "utc": true}]},
             "axis": {"title": null, "orient": "bottom", "tickCount": {"interval": "month", "step": 3}, "labelExpr": "utcyear(datum.value) > 2023 ? '' : (utcmonth(datum.value) === 0 ? utcFormat(datum.value, '%y') : utcFormat(datum.value, '%b'))", "labelFontWeight": {"condition": {"test": "utcmonth(datum.value) === 0", "value": "bold"}, "value": "normal"}, "labelFontSize": 12, "tickSize": 3, "labelPadding": 2, "labelOverlap": false, "labelFlush": false}},
       "y": {"field": "r", "type": "quantitative", "title": null,
             "scale": {"domain": [-6, 106.6], "nice": false, "zero": false},
             "axis": {"title": null, "orient": "right", "values": [0,5,10,15,20,25,30,35,40,45,50,55,60,65,70,75,80,85,90,95,100], "labelExpr": "datum.value % 20 === 10 ? datum.label : ''", "labelAlign": "left", "labelPadding": 3, "tickSize": 3, "labelFontSize": 12, "labelOverlap": false}}
     }},
    {"data": {"values": [{}]}, "mark": {"type": "rule", "color": "#8c8c8c", "strokeWidth": 1.2},
     "encoding": {"y": {"datum": 70, "title": null, "axis": {"title": null, "orient": "right", "values": [0,5,10,15,20,25,30,35,40,45,50,55,60,65,70,75,80,85,90,95,100], "labelExpr": "datum.value % 20 === 10 ? datum.label : ''", "labelAlign": "left", "labelPadding": 3, "tickSize": 3, "labelFontSize": 12, "labelOverlap": false}}}},
    {"data": {"values": [{}]}, "mark": {"type": "rule", "color": "#8c8c8c", "strokeWidth": 1.2},
     "encoding": {"y": {"datum": 30, "title": null, "axis": {"title": null, "orient": "right", "values": [0,5,10,15,20,25,30,35,40,45,50,55,60,65,70,75,80,85,90,95,100], "labelExpr": "datum.value % 20 === 10 ? datum.label : ''", "labelAlign": "left", "labelPadding": 3, "tickSize": 3, "labelFontSize": 12, "labelOverlap": false}}}},
    {"data": {"values": [{}]}, "mark": {"type": "rule", "color": "#999999", "strokeWidth": 1, "strokeDash": [8, 3, 2, 3]},
     "encoding": {"y": {"datum": 50, "title": null, "axis": {"title": null, "orient": "right", "values": [0,5,10,15,20,25,30,35,40,45,50,55,60,65,70,75,80,85,90,95,100], "labelExpr": "datum.value % 20 === 10 ? datum.label : ''", "labelAlign": "left", "labelPadding": 3, "tickSize": 3, "labelFontSize": 12, "labelOverlap": false}}}},
    {"data": {"values": [{}]}, "mark": {"type": "point", "shape": "M -1 0 A 1 0.76 0 1 0 1 0 A 1 0.76 0 1 0 -1 0 Z", "size": 3844, "filled": true, "fill": "#f08080", "fillOpacity": 0.6, "stroke": "#e06666", "strokeWidth": 1, "strokeOpacity": 0.9},
     "encoding": {
       "x": {"datum": {"year": 2023, "month": 12, "date": 1, "utc": true}, "title": null, "axis": {"title": null, "orient": "bottom", "tickCount": {"interval": "month", "step": 3}, "labelExpr": "utcyear(datum.value) > 2023 ? '' : (utcmonth(datum.value) === 0 ? utcFormat(datum.value, '%y') : utcFormat(datum.value, '%b'))", "labelFontWeight": {"condition": {"test": "utcmonth(datum.value) === 0", "value": "bold"}, "value": "normal"}, "labelFontSize": 12, "tickSize": 3, "labelPadding": 2, "labelOverlap": false, "labelFlush": false}},
       "y": {"datum": 70.3, "title": null, "axis": {"title": null, "orient": "right", "values": [0,5,10,15,20,25,30,35,40,45,50,55,60,65,70,75,80,85,90,95,100], "labelExpr": "datum.value % 20 === 10 ? datum.label : ''", "labelAlign": "left", "labelPadding": 3, "tickSize": 3, "labelFontSize": 12, "labelOverlap": false}}}},
    {"data": {"values": [{}]}, "mark": {"type": "point", "shape": "M -1 1 L -0.6 -0.1 L -0.2 0.4 L 0.3 -0.9 L 1 0.3 L 1 1 Z", "size": 196, "filled": true, "fill": "#6f8f72", "stroke": "#222222", "strokeWidth": 1},
     "encoding": {
       "x": {"datum": {"year": 2018, "month": 1, "date": 21, "utc": true}, "title": null, "axis": {"title": null, "orient": "bottom", "tickCount": {"interval": "month", "step": 3}, "labelExpr": "utcyear(datum.value) > 2023 ? '' : (utcmonth(datum.value) === 0 ? utcFormat(datum.value, '%y') : utcFormat(datum.value, '%b'))", "labelFontWeight": {"condition": {"test": "utcmonth(datum.value) === 0", "value": "bold"}, "value": "normal"}, "labelFontSize": 12, "tickSize": 3, "labelPadding": 2, "labelOverlap": false, "labelFlush": false}},
       "y": {"datum": 100.5, "title": null, "axis": {"title": null, "orient": "right", "values": [0,5,10,15,20,25,30,35,40,45,50,55,60,65,70,75,80,85,90,95,100], "labelExpr": "datum.value % 20 === 10 ? datum.label : ''", "labelAlign": "left", "labelPadding": 3, "tickSize": 3, "labelFontSize": 12, "labelOverlap": false}}}},
    {"data": {"values": [{}]}, "mark": {"type": "text", "align": "left", "baseline": "middle", "dx": 22, "fontSize": 15, "color": "#222222"},
     "encoding": {
       "x": {"datum": {"year": 2018, "month": 1, "date": 1, "utc": true}, "title": null, "axis": {"title": null, "orient": "bottom", "tickCount": {"interval": "month", "step": 3}, "labelExpr": "utcyear(datum.value) > 2023 ? '' : (utcmonth(datum.value) === 0 ? utcFormat(datum.value, '%y') : utcFormat(datum.value, '%b'))", "labelFontWeight": {"condition": {"test": "utcmonth(datum.value) === 0", "value": "bold"}, "value": "normal"}, "labelFontSize": 12, "tickSize": 3, "labelPadding": 2, "labelOverlap": false, "labelFlush": false}},
       "y": {"datum": 100.5, "title": null, "axis": {"title": null, "orient": "right", "values": [0,5,10,15,20,25,30,35,40,45,50,55,60,65,70,75,80,85,90,95,100], "labelExpr": "datum.value % 20 === 10 ? datum.label : ''", "labelAlign": "left", "labelPadding": 3, "tickSize": 3, "labelFontSize": 12, "labelOverlap": false}},
       "text": {"value": "RSI(14) 78.45"}}}
  ]
}
]
}
